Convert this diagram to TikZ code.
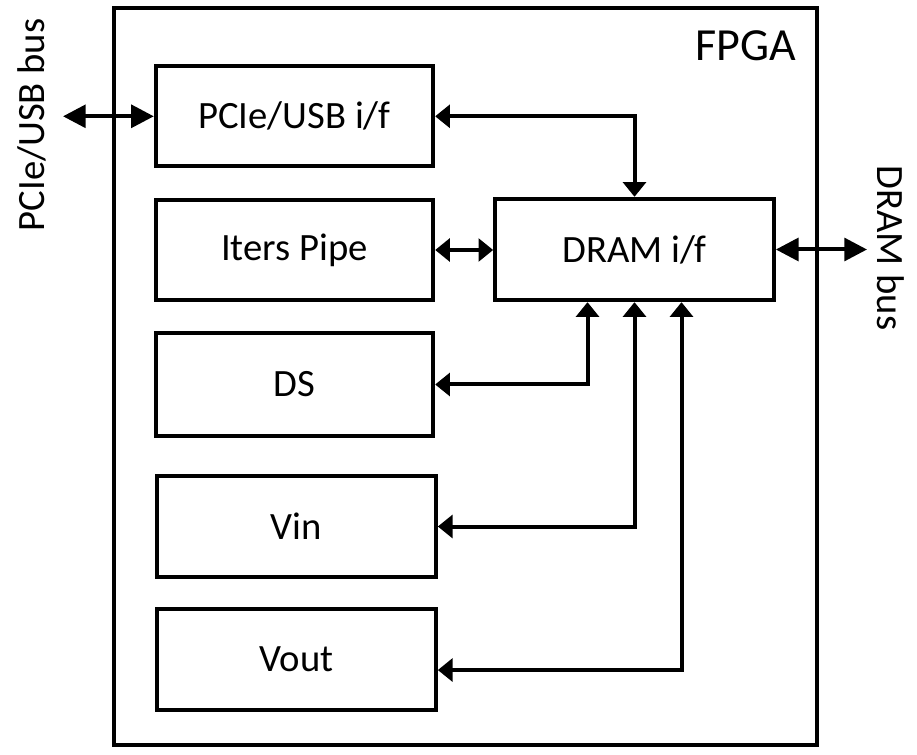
\documentclass[tikz,border=0pt]{standalone}
\usepackage{fontspec}
\setmainfont{Carlito}
\usetikzlibrary{arrows.meta}
\begin{document}
\begin{tikzpicture}[x=0.75pt,y=-0.75pt,
  blk/.style={draw, line width=3pt, inner sep=0pt, font=\fontsize{29}{34}\selectfont,
    minimum width=208pt, minimum height=75pt},
  lbl/.style={inner sep=0pt, font=\fontsize{29}{34}\selectfont},
  conn/.style={line width=3pt},
  bigarr/.style={conn, {Triangle[length=17pt,width=17pt]}-{Triangle[length=17pt,width=17pt]}},
  smallarr/.style={conn, {Triangle[length=11pt,width=17pt]}-{Triangle[length=11pt,width=17pt]}}]
\useasboundingbox (0,0) rectangle (917,755);
\node[draw, line width=3pt, inner sep=0pt, minimum width=527.25pt, minimum height=552.4pt] (fpga) at (465,376.75) {};
\node[lbl, font=\fontsize{34.5}{40}\selectfont] (fpgalbl) at (746,46) {FPGA};
\node[blk] (pcie) at (294.5,116.3) {PCIe/USB i/f};
\node[blk] (iters) at (294.5,250) {Iters Pipe};
\node[blk, minimum height=77pt] (ds) at (294.5,384.5) {DS};
\node[blk, minimum width=209pt, minimum height=76pt] (vin) at (296.5,526.5) {Vin};
\node[blk, minimum width=209pt, minimum height=76pt] (vout) at (296.5,659.5) {Vout};
\node[blk, minimum width=209pt, minimum height=76pt] (dram) at (634.5,249.5) {DRAM i/f};
\node[lbl, rotate=90] (lbus) at (32,125) {PCIe/USB bus};
\node[lbl, rotate=-90] (rbus) at (891,248) {DRAM bus};
\coordinate (busL) at (63,116.3);
\coordinate (busR) at (867,249.5);
\draw[bigarr] (busL) -- (pcie.west);
\draw[smallarr] (pcie.east) -| (dram.north);
\draw[smallarr] (iters.east) -- (iters.east -| dram.west);
\draw[bigarr] (dram.east) -- (busR);
\draw[smallarr] (ds.east) -| ([xshift=-35.25pt]dram.south);
\draw[smallarr] (vin.east) -| (dram.south);
\draw[smallarr] ([yshift=-7.9pt]vout.east) -| ([xshift=35.25pt]dram.south);
\end{tikzpicture}
\end{document}
